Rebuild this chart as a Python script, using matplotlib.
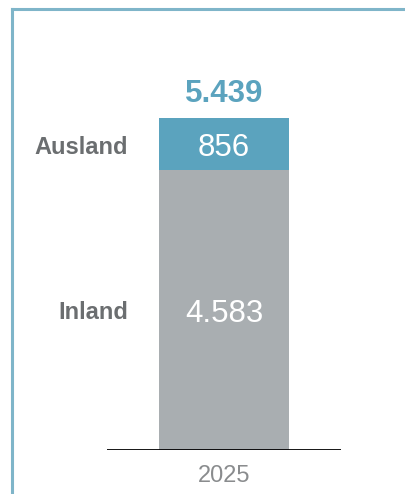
import matplotlib.pyplot as plt
from matplotlib.lines import Line2D

# Daten
jahre = ['2025']
inland = [4583]
ausland = [856]
segmente = ['Inland', 'Ausland']

farbe_inland = '#a9aeb1'
farbe_ausland = '#5ba3be'
farbe_text = '#6b6e70'
farbe_rahmen = '#7fb5c9'

plt.rcParams['font.family'] = ['Liberation Sans', 'DejaVu Sans']

fig = plt.figure(figsize=(4.05, 4.94), dpi=100)
W, H = 405, 494
ax = fig.add_axes([107 / W, 44 / H, 234 / W, 366 / H])

x = list(range(len(jahre)))
ax.bar(x, inland, width=1.0, color=farbe_inland)
ax.bar(x, ausland, bottom=inland, width=1.0, color=farbe_ausland)

ax.set_xlim(-0.9, 0.9)
ax.set_ylim(0, 6000)
ax.axhline(0, color='black', lw=2)

def fmt(v):
    return f"{v:,}".replace(',', '.')

for i in x:
    ges = inland[i] + ausland[i]
    ax.annotate(fmt(inland[i]), (i, inland[i] / 2), xytext=(0, -2.5),
                textcoords='offset points', ha='center', va='center',
                color='white', fontsize=22.5)
    ax.annotate(fmt(ausland[i]), (i, inland[i] + ausland[i] / 2), xytext=(0, -2.5),
                textcoords='offset points', ha='center', va='center',
                color='white', fontsize=22.5)
    ax.annotate(fmt(ges), (i, ges), xytext=(0, 17.5),
                textcoords='offset points', ha='center', va='center',
                color=farbe_ausland, fontsize=22.5, fontweight='bold')

# Segmentbeschriftungen links
ax.annotate(segmente[0], (-0.738, inland[0] / 2), xytext=(0, -2),
            textcoords='offset points', ha='right', va='center',
            color=farbe_text, fontsize=17, fontweight='bold')
ax.annotate(segmente[1], (-0.738, inland[0] + ausland[0] / 2), xytext=(0, -2),
            textcoords='offset points', ha='right', va='center',
            color=farbe_text, fontsize=17, fontweight='bold')

ax.set_xticks(x, jahre)
ax.tick_params(axis='x', length=0, pad=11, labelsize=17, labelcolor='#8a8c8e')
ax.set_yticks([])
for s in ax.spines.values():
    s.set_visible(False)

# Rahmen oben und links
fig.add_artist(Line2D([12 / W, 1], [1 - 9 / H, 1 - 9 / H], color=farbe_rahmen, lw=2.2))
fig.add_artist(Line2D([12 / W, 12 / W], [0, 1 - 9 / H], color=farbe_rahmen, lw=2.2))

fig.savefig('out.png', dpi=100)
